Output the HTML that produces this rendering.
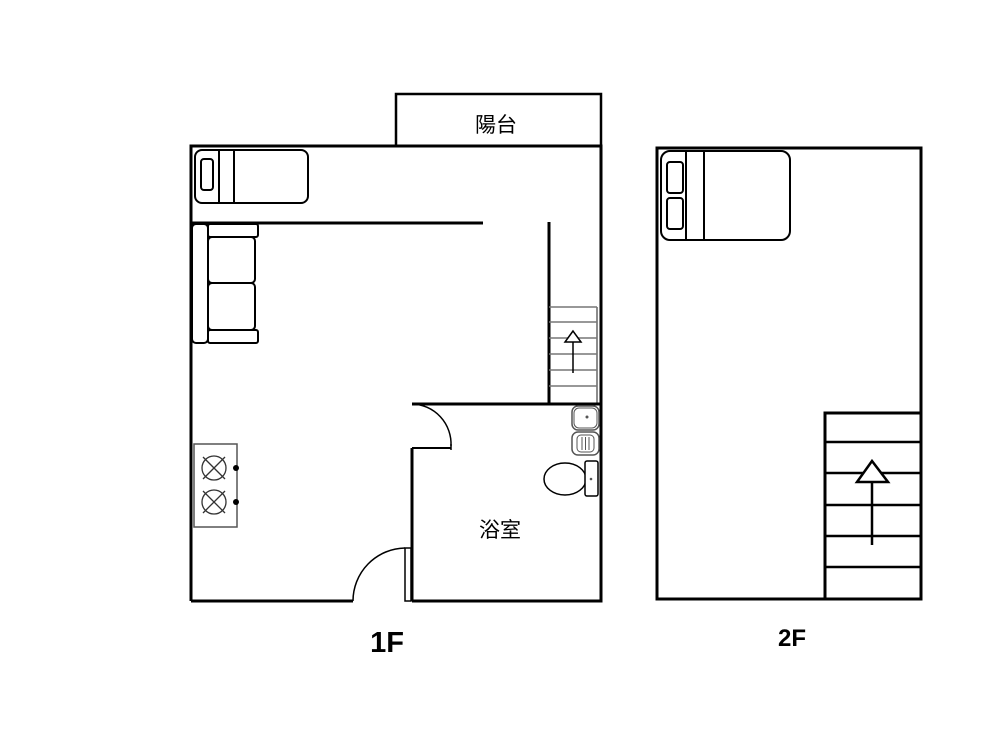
<!DOCTYPE html>
<html><head><meta charset="utf-8"><style>
html,body{margin:0;padding:0;background:#fff;width:1000px;height:750px;overflow:hidden}
</style></head><body>
<svg width="1000" height="750" viewBox="0 0 1000 750" xmlns="http://www.w3.org/2000/svg" font-family="Liberation Sans, Noto Sans CJK TC, sans-serif">
<g fill="none" stroke="#000">
<!-- 1F outer walls -->
<path d="M191,601 V146 H601 V601 H412" stroke-width="3"/>
<path d="M191,601 H353" stroke-width="3"/>
<!-- balcony -->
<path d="M396,146 V94 H601 V146" stroke-width="2.5"/>
<!-- bed 1F -->
<rect x="195" y="150" width="113" height="53" rx="7" stroke-width="2"/>
<rect x="201" y="159" width="12" height="31" rx="3" stroke-width="2"/>
<line x1="219" y1="150" x2="219" y2="203" stroke-width="2"/>
<line x1="234" y1="150" x2="234" y2="203" stroke-width="2"/>
<!-- partition -->
<line x1="191" y1="223" x2="483" y2="223" stroke-width="3"/>
<!-- sofa -->
<rect x="192" y="224" width="16" height="119" rx="4" stroke-width="2"/>
<rect x="208" y="224" width="50" height="13" rx="2" stroke-width="2"/>
<rect x="208" y="330" width="50" height="13" rx="2" stroke-width="2"/>
<rect x="208" y="237" width="47" height="46" rx="4" stroke-width="2"/>
<rect x="208" y="283" width="47" height="47" rx="4" stroke-width="2"/>
<!-- stairs 1F -->
<line x1="549" y1="222" x2="549" y2="404" stroke-width="3"/>
<line x1="597" y1="307" x2="597" y2="404" stroke="#666" stroke-width="1.5"/>
<g stroke="#777" stroke-width="1.5">
<line x1="549" y1="307" x2="597" y2="307"/><line x1="549" y1="322" x2="597" y2="322"/>
<line x1="549" y1="338" x2="597" y2="338"/><line x1="549" y1="354" x2="597" y2="354"/>
<line x1="549" y1="370" x2="597" y2="370"/><line x1="549" y1="386" x2="597" y2="386"/>
</g>
<line x1="573" y1="373" x2="573" y2="340" stroke-width="1.5"/>
<polygon points="573,331 565,342 581,342" fill="#fff" stroke-width="1.5"/>
<!-- bathroom -->
<line x1="412" y1="404" x2="601" y2="404" stroke-width="3"/>
<path d="M412,448 H451" stroke-width="2"/>
<path d="M412,448 V601" stroke-width="3"/>
<path d="M412,404 A40,40 0 0 1 451,446" stroke-width="1.5"/>
<line x1="451" y1="444" x2="451" y2="450" stroke-width="1.5"/>
<!-- sink & fixtures -->
<rect x="572" y="406" width="27" height="24" rx="6" stroke="#555" stroke-width="1.5"/>
<rect x="574" y="408" width="23" height="20" rx="5" stroke="#555" stroke-width="1"/>
<circle cx="587" cy="417" r="1.5" fill="#555" stroke="none"/>
<rect x="572" y="432" width="27" height="23" rx="6" stroke="#555" stroke-width="1.5"/>
<rect x="577" y="435" width="17" height="17" rx="4" stroke="#555" stroke-width="1"/>
<g stroke="#555" stroke-width="1"><line x1="582" y1="437" x2="582" y2="450"/><line x1="585.5" y1="437" x2="585.5" y2="450"/><line x1="589" y1="437" x2="589" y2="450"/></g>
<ellipse cx="565" cy="479" rx="21" ry="16" stroke-width="1.5"/>
<rect x="585" y="461" width="13" height="35" rx="2" stroke-width="1.5" fill="#fff"/>
<circle cx="591" cy="479" r="1.3" fill="#555" stroke="none"/>
<!-- main door -->
<path d="M353,601 A53,53 0 0 1 405,548" stroke-width="1.5"/>
<rect x="405" y="548" width="6" height="53" stroke-width="1.5"/>
<!-- stove -->
<rect x="194" y="444" width="43" height="83" stroke="#555" stroke-width="1.5"/>
<g stroke="#333" stroke-width="1.3">
<circle cx="214" cy="468" r="12"/><line x1="203" y1="457" x2="225" y2="479"/><line x1="225" y1="457" x2="203" y2="479"/>
<circle cx="214" cy="502" r="12"/><line x1="203" y1="491" x2="225" y2="513"/><line x1="225" y1="491" x2="203" y2="513"/>
</g>
<circle cx="236" cy="468" r="3" fill="#000" stroke="none"/>
<circle cx="236" cy="502" r="3" fill="#000" stroke="none"/>

<!-- 2F -->
<rect x="657" y="148" width="264" height="451" stroke-width="3"/>
<rect x="661" y="151" width="129" height="89" rx="9" stroke-width="2"/>
<rect x="667" y="162" width="16" height="31" rx="3" stroke-width="2"/>
<rect x="667" y="198" width="16" height="31" rx="3" stroke-width="2"/>
<line x1="686" y1="151" x2="686" y2="240" stroke-width="2"/>
<line x1="704" y1="151" x2="704" y2="240" stroke-width="2"/>
<path d="M825,599 V413 H921" stroke-width="3"/>
<g stroke-width="2.5">
<line x1="825" y1="442" x2="921" y2="442"/><line x1="825" y1="473" x2="921" y2="473"/>
<line x1="825" y1="505" x2="921" y2="505"/><line x1="825" y1="536" x2="921" y2="536"/>
<line x1="825" y1="567" x2="921" y2="567"/>
</g>
<line x1="872" y1="545" x2="872" y2="482" stroke-width="2.5"/>
<polygon points="872,461 857,482 888,482" fill="#fff" stroke-width="2.5"/>
</g>
<text x="496" y="132" font-size="21" text-anchor="middle">陽台</text>
<text x="500" y="537" font-size="21" text-anchor="middle">浴室</text>
<text x="387" y="652" font-size="29" font-weight="bold" text-anchor="middle">1F</text>
<text x="792" y="646" font-size="24" font-weight="bold" text-anchor="middle">2F</text>
</svg>
</body></html>
